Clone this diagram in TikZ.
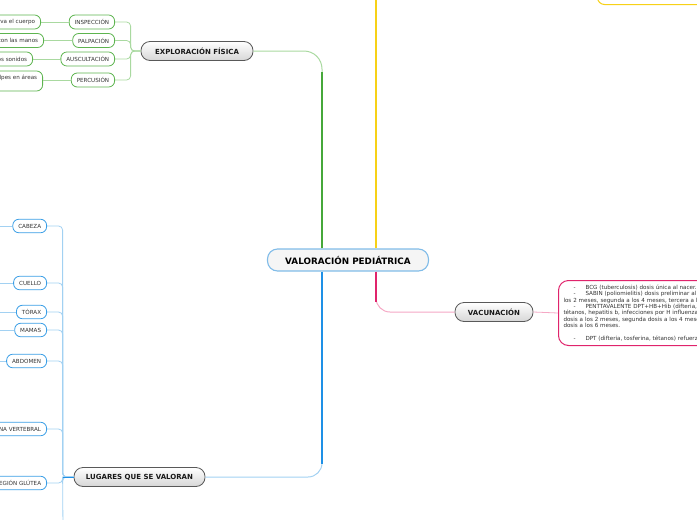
\documentclass[tikz,border=0pt]{standalone}
\usepackage{fontspec}
\setmainfont{DejaVu Sans}
\usetikzlibrary{calc}
\definecolor{gD}{HTML}{46A83A}
\definecolor{gL}{HTML}{A9D9A0}
\definecolor{gB}{HTML}{5DB44F}
\definecolor{bD}{HTML}{1E90E6}
\definecolor{bL}{HTML}{A2D1F2}
\definecolor{bB}{HTML}{3A9EE6}
\definecolor{yl}{HTML}{F7D117}
\definecolor{pD}{HTML}{E0246C}
\definecolor{pL}{HTML}{F5A8C5}
\definecolor{cB}{HTML}{80BCE8}
\definecolor{tx}{HTML}{333333}
\begin{document}
\begin{tikzpicture}[x=1pt,y=-1pt,
  mainnode/.style={draw=black!65, line width=0.8pt, rounded corners=9pt, top color=white, bottom color=black!16, font=\bfseries\fontsize{7}{8}\selectfont, text=black!90, inner sep=0pt, minimum height=19pt},
  gchild/.style={draw=gB, line width=0.8pt, fill=white, rounded corners=6pt, font=\fontsize{5.6}{6.6}\selectfont, text=tx, inner xsep=5.5pt, inner ysep=0pt, minimum height=14pt, anchor=east},
  bchild/.style={draw=bB, line width=0.8pt, fill=white, rounded corners=6pt, font=\fontsize{5.6}{6.6}\selectfont, text=tx, inner xsep=5.5pt, inner ysep=0pt, minimum height=13.5pt, anchor=east},
  glink/.style={draw=gL, line width=0.8pt, rounded corners=4pt},
  blink/.style={draw=bL, line width=0.8pt, rounded corners=4pt}
]
\useasboundingbox (0,0) rectangle (697,520);
\clip (0,0) rectangle (697,520);

% central node
\node[draw=cB, line width=1.1pt, fill=black!4, rounded corners=10pt, minimum width=161pt, minimum height=22pt, inner sep=0pt, font=\bfseries\fontsize{8.8}{10}\selectfont] (c) at (348,260) {VALORACIÓN PEDIÁTRICA};

% main nodes
\node[mainnode, minimum width=112pt] (ef) at (197,51) {EXPLORACIÓN FÍSICA};
\node[mainnode, minimum width=131pt] (lug) at (139.5,477) {LUGARES QUE SE VALORAN};
\node[mainnode, minimum width=78pt] (vac) at (494,312) {VACUNACIÓN};

% top right yellow node (mostly outside)
\node[draw=yl, line width=1pt, fill=white, rounded corners=7pt, minimum width=112pt, minimum height=20pt, anchor=south west] (ytop) at (597,5) {};
\coordinate (yend) at (376,-20);

% branch connectors
\draw[gL, line width=1pt, rounded corners=18pt] ([xshift=-26pt]c.north) |- (ef.east);
\draw[gD, line width=1.6pt] ([xshift=-26pt]c.north) -- ++(0,-176);
\draw[yl, line width=1.6pt] ([xshift=28pt]c.north) -- (yend);
\draw[pL, line width=1pt, rounded corners=14pt] ([xshift=28pt]c.south) |- (vac.west);
\draw[pD, line width=1.6pt] ([xshift=28pt]c.south) -- ++(0,30);
\draw[bL, line width=1pt, rounded corners=14pt] ([xshift=-26pt]c.south) |- (lug.east);
\draw[bD, line width=1.6pt] ([xshift=-26pt]c.south) -- ++(0,192);

% exploracion children
\node[gchild] (ins) at (115,22) {INSPECCIÓN};
\node[gchild] (pal) at (115,40.5) {PALPACIÓN};
\node[gchild] (aus) at (115,59) {AUSCULTACIÓN};
\node[gchild] (per) at (115,80) {PERCUSIÓN};
\foreach \n in {ins,pal,aus,per}{\draw[glink] (ef.west) -- ++(-10,0) |- (\n.east);}

\node[gchild] (ins2) at (41,22) {Se observa el cuerpo};
\node[gchild] (pal2) at (44,40.5) {Se palpa con las manos};
\node[gchild] (aus2) at (33,59) {Se escuchan los sonidos};
\node[gchild, minimum height=20pt, align=left, font=\fontsize{5.6}{7}\selectfont] (per2) at (43,81) {Se dan pequeños golpes en áreas\\específicas};
\draw[glink] (ins.west) -- (ins2.east);
\draw[glink] (pal.west) -- (pal2.east);
\draw[glink] (aus.west) -- (aus2.east);
\draw[glink] (per.west) -- (per.west -| per2.east);

% lugares children
\node[bchild] (cab) at (47,226) {CABEZA};
\node[bchild] (cue) at (47,283) {CUELLO};
\node[bchild] (tor) at (47,312) {TÓRAX};
\node[bchild] (mam) at (47,330) {MAMAS};
\node[bchild] (abd) at (47,361) {ABDOMEN};
\node[bchild] (col) at (47,429) {COLUMNA VERTEBRAL};
\node[bchild] (glu) at (47,483) {REGIÓN GLÚTEA};
\coordinate (ldown) at (63,530);
\foreach \n in {cab,cue,tor,mam,abd,col,glu}{\draw[blink] (lug.west) -- ++(-11,0) |- (\n.east);}
\draw[bL, line width=0.8pt] (lug.west) -- ++(-11,0) -- (ldown);
\draw[bD, line width=0.8pt] (lug.west) -- ++(-11,0);
\foreach \n in {cab,cue,tor,mam,abd}{
  \coordinate (\n L) at (-5,0 |- \n.west);
  \draw[bL, line width=0.8pt] (\n.west) -- (\n L);}

% vaccination text
\node[draw=pD, line width=1pt, rounded corners=10pt, fill=white, anchor=north west, minimum height=65pt, text width=220pt, inner xsep=5pt, inner ysep=4.2pt, align=left, font=\fontsize{5.6}{6.3}\selectfont, text=tx] (vt) at (558,280) {%
\hspace*{10pt}-\hspace{10pt}BCG (tuberculosis) dosis única al nacer.\\
\hspace*{10pt}-\hspace{10pt}SABIN (poliomielitis) dosis preliminar al nacer, primera dosis a\\
los 2 meses, segunda a los 4 meses, tercera a los 6 meses.\\
\hspace*{10pt}-\hspace{10pt}PENTTAVALENTE DPT+HB+Hib (difteria, tosferina,\\
tétanos, hepatitis b, infecciones por H influenzae tipo b) primera\\
dosis a los 2 meses, segunda dosis a los 4 meses y tercera\\
dosis a los 6 meses.\\[6.3pt]
\hspace*{10pt}-\hspace{10pt}DPT (difteria, tosferina, tétanos) refuerzo a los 18 meses.};
\draw[pL, line width=0.8pt] (vac.east) -- (vt.west);
\end{tikzpicture}
\end{document}
